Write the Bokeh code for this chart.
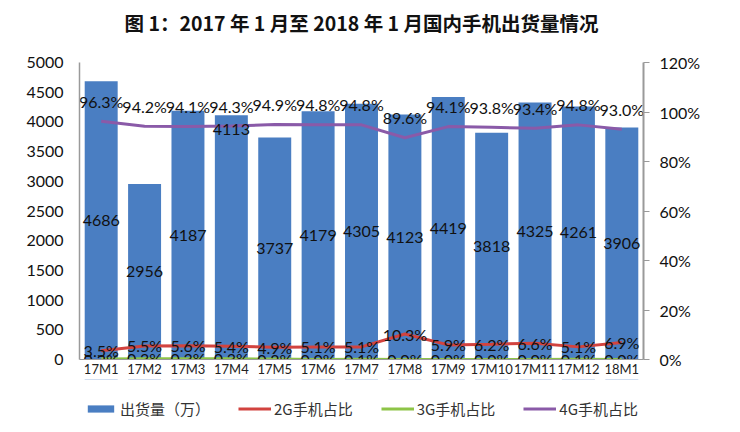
from bokeh.plotting import figure
from bokeh.layouts import column
from bokeh.models import (ColumnDataSource, FactorRange, Range1d, LinearAxis, FixedTicker,
                          PrintfTickFormatter, Legend, LegendItem, Title)
from bokeh.core.properties import value
from bokeh.embed import file_html
from bokeh.resources import INLINE

categories = ["17M1", "17M2", "17M3", "17M4", "17M5", "17M6", "17M7",
              "17M8", "17M9", "17M10", "17M11", "17M12", "18M1"]
shipments = [4686, 2956, 4187, 4113, 3737, 4179, 4305, 4123, 4419, 3818, 4325, 4261, 3906]
share_2g = [3.5, 5.5, 5.6, 5.4, 4.9, 5.1, 5.1, 10.3, 5.9, 6.2, 6.6, 5.1, 6.9]
share_3g = [0.2, 0.3, 0.3, 0.3, 0.2, 0.0, 0.1, 0.0, 0.0, 0.0, 0.0, 0.1, 0.0]
share_4g = [96.3, 94.2, 94.1, 94.3, 94.9, 94.8, 94.8, 89.6, 94.1, 93.8, 93.4, 94.8, 93.0]
left_ticks = list(range(0, 5001, 500))
right_ticks = list(range(0, 121, 20))
top_labelled = ["17M4"]   # bars whose value label sits at the top inside the bar

title_text = "图 1：2017 年 1 月至 2018 年 1 月国内手机出货量情况"
legend_labels = ["出货量（万）", "2G手机占比", "3G手机占比", "4G手机占比"]

BAR = "#4a7ec2"
RED = "#d2433f"
GREEN = "#8dc447"
PURPLE = "#8a5aa8"
LABEL_FONT = "Lato"

src = ColumnDataSource(dict(
    cat=categories,
    ship=shipments,
    ship_mid=[v / 2 if c not in top_labelled else v for c, v in zip(categories, shipments)],
    ship_off=[14 if c in top_labelled else 0 for c in categories],
    ship_txt=[str(v) for v in shipments],
    s2=share_2g, s3=share_3g, s4=share_4g,
    s2_txt=["%.1f%%" % v for v in share_2g],
    s3_txt=["%.1f%%" % v for v in share_3g],
    s4_txt=["%.1f%%" % v for v in share_4g],
))

p = figure(frame_width=564, frame_height=297, x_range=FactorRange(factors=categories),
           y_range=Range1d(0, 5000), output_backend="svg", toolbar_location=None,
           min_border_left=79, min_border_right=97, min_border_top=62, min_border_bottom=20)
p.extra_y_ranges = {"pct": Range1d(0, 120)}
p.outline_line_color = None
p.xgrid.visible = False
p.ygrid.visible = False
p.background_fill_color = "white"

# spacer between frame and title (title is the outermost "above" panel)
p.add_layout(Title(text=" ", text_font_size="2px", standoff=20), "above")

p.title.text = title_text
p.title.align = "center"
p.title.text_font = "Noto Sans CJK SC"
p.title.text_font_size = "19.5px"
p.title.text_font_style = "bold"
p.title.text_color = "#111111"
p.title.standoff = 4

p.vbar(x="cat", top="ship", width=0.76, source=src, fill_color=BAR, line_color=None)
p.line(x="cat", y="s2", source=src, y_range_name="pct", line_color=RED, line_width=3)
p.line(x="cat", y="s3", source=src, y_range_name="pct", line_color=GREEN, line_width=3)
p.line(x="cat", y="s4", source=src, y_range_name="pct", line_color=PURPLE, line_width=3)

common = dict(text_font=value(LABEL_FONT), text_font_size="16px", text_color="#111111",
              text_align="center", text_baseline="middle")
p.text(x="cat", y="ship_mid", text="ship_txt", y_offset="ship_off", source=src, **common)
p.text(x="cat", y="s2", text="s2_txt", source=src, y_range_name="pct", **common)
p.text(x="cat", y="s3", text="s3_txt", source=src, y_range_name="pct", **common)
p.text(x="cat", y="s4", text="s4_txt", source=src, y_range_name="pct", y_offset=-20, **common)

# left axis
ya = p.yaxis[0]
ya.ticker = FixedTicker(ticks=left_ticks)
ya.major_tick_out = 0
ya.major_tick_in = 0
ya.minor_tick_out = 0
ya.minor_tick_in = 0
ya.axis_line_color = "#9a9a9a"
ya.axis_line_width = 1.5
ya.major_label_standoff = 16
ya.major_label_text_font = LABEL_FONT
ya.major_label_text_font_size = "16px"
ya.major_label_text_color = "#111111"

# right axis
ra = LinearAxis(y_range_name="pct", ticker=FixedTicker(ticks=right_ticks),
                formatter=PrintfTickFormatter(format="%d%%"))
ra.major_tick_out = 6
ra.major_tick_in = 0
ra.minor_tick_out = 0
ra.minor_tick_in = 0
ra.axis_line_color = "#9a9a9a"
ra.axis_line_width = 2
ra.major_tick_line_color = "#9a9a9a"
ra.major_label_standoff = 10
ra.major_label_text_font = LABEL_FONT
ra.major_label_text_font_size = "16px"
ra.major_label_text_color = "#111111"
p.add_layout(ra, "right")

# x axis
xa = p.xaxis[0]
xa.major_tick_out = 0
xa.major_tick_in = 0
xa.axis_line_color = "#9a9a9a"
xa.major_label_standoff = 1
xa.major_label_text_font = LABEL_FONT
xa.major_label_text_font_size = "13px"
xa.major_label_text_color = "#222222"

# legend strip: a small figure whose y range lies below the data, so only the legend shows
lg = figure(width=740, height=52, output_backend="svg", toolbar_location=None,
            x_axis_type=None, y_axis_type=None, min_border=0,
            x_range=FactorRange(factors=categories), y_range=Range1d(-2, -1))
lg.outline_line_color = None
lg.xgrid.visible = False
lg.ygrid.visible = False
r0 = lg.vbar(x="cat", top="ship", width=0.76, source=src, fill_color=BAR, line_color=None)
r1 = lg.line(x="cat", y="s2", source=src, line_color=RED, line_width=3)
r2 = lg.line(x="cat", y="s3", source=src, line_color=GREEN, line_width=3)
r3 = lg.line(x="cat", y="s4", source=src, line_color=PURPLE, line_width=3)

legend = Legend(items=[LegendItem(label=legend_labels[0], renderers=[r0]),
                       LegendItem(label=legend_labels[1], renderers=[r1]),
                       LegendItem(label=legend_labels[2], renderers=[r2]),
                       LegendItem(label=legend_labels[3], renderers=[r3])],
                orientation="horizontal", location="bottom_center",
                border_line_alpha=0, background_fill_alpha=0,
                label_text_font="Noto Sans CJK SC", label_text_font_size="15px",
                label_text_color="#333333",
                glyph_width=33, glyph_height=9, label_standoff=3, spacing=28,
                padding=2, margin=10)
lg.add_layout(legend)

page = column(p, lg, spacing=0)
open("out.html", "w").write(file_html(page, INLINE))
